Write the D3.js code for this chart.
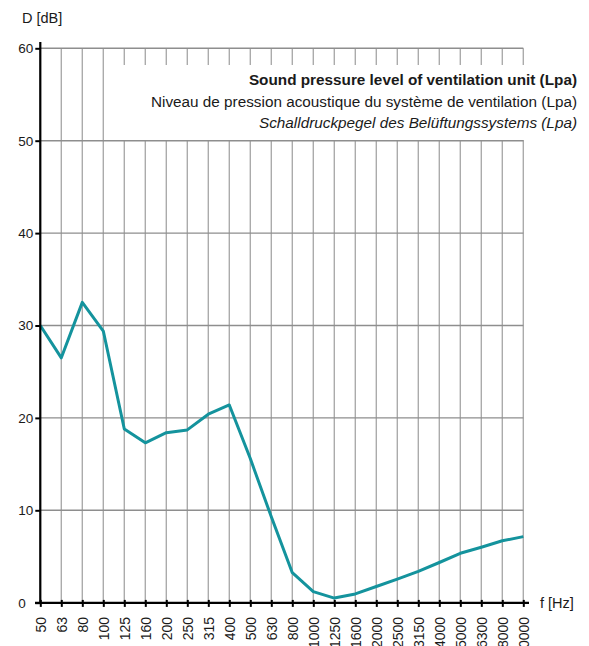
<!DOCTYPE html>
<html>
<head>
<meta charset="utf-8">
<script src="https://cdn.jsdelivr.net/npm/d3@7"></script>
<style>
  html, body { margin: 0; padding: 0; background: #fff; }
  svg { display: block; font-family: "Liberation Sans", Arial, Helvetica, sans-serif; }
</style>
</head>
<body>
<svg id="chart" width="589" height="646"></svg>
<script>
const categories = ["50","63","80","100","125","160","200","250","315","400","500","630","800","1000","1250","1600","2000","2500","3150","4000","5000","6300","8000","10000"];
const lpaValues = [30, 26.5, 32.5, 29.4, 18.8, 17.3, 18.4, 18.7, 20.4, 21.4, 15.6, 9.3, 3.25, 1.2, 0.5, 0.95, 1.75, 2.55, 3.4, 4.35, 5.35, 6.0, 6.7, 7.15];
const yTicks = [0, 10, 20, 30, 40, 50, 60];
const legendLines = [
  "Sound pressure level of ventilation unit (Lpa)",
  "Niveau de pression acoustique du système de ventilation (Lpa)",
  "Schalldruckpegel des Belüftungssystems (Lpa)"
];
const yLabel = "D [dB]";
const xLabel = "f [Hz]";

const svg = d3.select("#chart");
const x = d3.scalePoint().domain(categories).range([40.3, 523.3]);
const y = d3.scaleLinear().domain([0, 60]).range([602.7, 48.3]);

// grid
const grid = svg.append("g");
grid.selectAll("line.v").data(categories).join("line")
  .attr("class", "v")
  .attr("x1", d => x(d)).attr("x2", d => x(d))
  .attr("y1", y(60)).attr("y2", y(0))
  .attr("stroke", "#ababab").attr("stroke-width", 1.4);
grid.selectAll("line.h").data(yTicks).join("line")
  .attr("class", "h")
  .attr("x1", x(categories[0])).attr("x2", x(categories[categories.length - 1]))
  .attr("y1", d => y(d)).attr("y2", d => y(d))
  .attr("stroke", "#8e8e8e").attr("stroke-width", 1.4);

// legend box
svg.append("rect")
  .attr("x", 105.5).attr("y", 65)
  .attr("width", 483).attr("height", 75)
  .attr("fill", "#fff");

const legend = svg.append("g").attr("font-size", 15.3).attr("fill", "#1a1a1a").attr("text-anchor", "end");
legend.selectAll("text").data(legendLines).join("text")
  .attr("x", 577)
  .attr("y", (d, i) => 85 + i * 21.7)
  .attr("font-weight", (d, i) => i === 0 ? "bold" : "normal")
  .attr("font-style", (d, i) => i === 2 ? "italic" : "normal")
  .text(d => d);

// curve
const line = d3.line()
  .x((d, i) => x(categories[i]))
  .y(d => y(d))
  .curve(d3.curveLinear);
svg.append("path")
  .datum(lpaValues)
  .attr("fill", "none")
  .attr("stroke", "#14939d")
  .attr("stroke-width", 3)
  .attr("stroke-linejoin", "round")
  .attr("d", line);

// y axis
const yAxis = svg.append("g").attr("transform", "translate(40.3,0)")
  .call(d3.axisLeft(y).tickValues(yTicks).tickSize(5).tickFormat(d3.format("d")));
yAxis.select(".domain").remove();
yAxis.append("line").attr("x1", 0).attr("x2", 0).attr("y1", 42).attr("y2", 604)
  .attr("stroke", "#000").attr("stroke-width", 2.2);
yAxis.selectAll(".tick line").attr("stroke", "#000").attr("stroke-width", 2);
yAxis.selectAll(".tick text")
  .attr("x", -22).attr("text-anchor", "start")
  .attr("font-size", 13.5).attr("fill", "#1a1a1a")
  .attr("font-family", "Liberation Sans, Arial, sans-serif");

// x axis
const xAxis = svg.append("g").attr("transform", "translate(0,602.9)")
  .call(d3.axisBottom(x).tickSize(4));
xAxis.select(".domain").remove();
xAxis.append("line").attr("x1", 35).attr("x2", 529).attr("y1", 0).attr("y2", 0)
  .attr("stroke", "#000").attr("stroke-width", 2.2);
xAxis.selectAll(".tick line").attr("y1", -3).attr("y2", 4).attr("stroke", "#000").attr("stroke-width", 2);
xAxis.selectAll(".tick text")
  .attr("transform", "rotate(-90)")
  .attr("x", -14).attr("y", 0).attr("dy", "0.35em")
  .attr("text-anchor", "end")
  .attr("font-size", 14).attr("fill", "#1a1a1a")
  .attr("font-family", "Liberation Sans, Arial, sans-serif");

// axis titles
svg.append("text").attr("x", 22).attr("y", 23).attr("font-size", 14.5).attr("fill", "#1a1a1a").text(yLabel);
svg.append("text").attr("x", 540).attr("y", 608).attr("font-size", 14.5).attr("fill", "#1a1a1a").text(xLabel);
</script>
</body>
</html>
